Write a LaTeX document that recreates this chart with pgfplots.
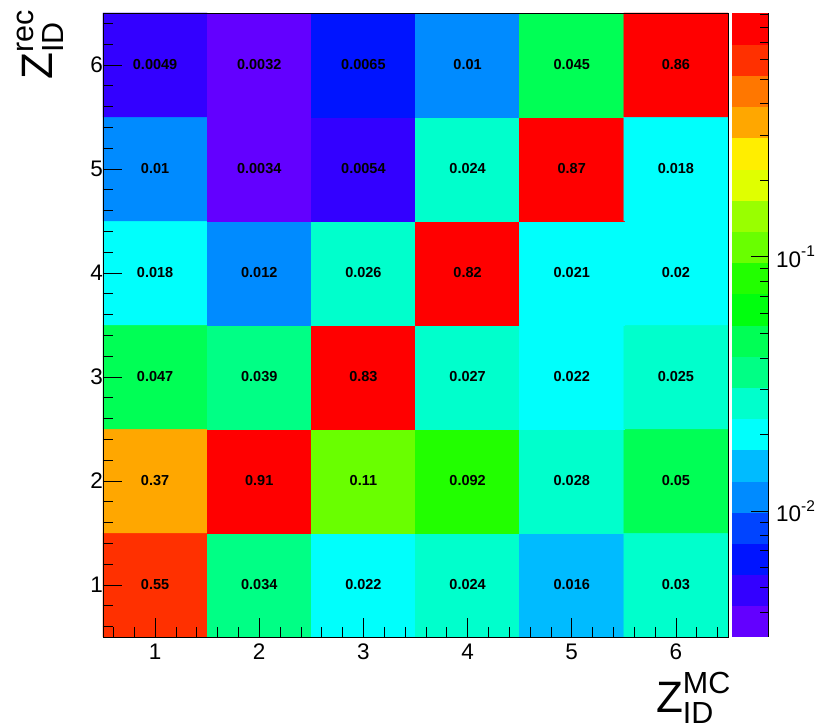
\documentclass[border=0pt]{standalone}
\usepackage{fontspec}
\setmainfont{Liberation Sans}
\usepackage{pgfplots}
\usepackage{pgfplotstable}
\pgfplotsset{compat=1.18}

% migration matrix: true ID (x) vs reconstructed ID (y), fraction per cell
\pgfplotstableread{
x y v
1 1 0.55
2 1 0.034
3 1 0.022
4 1 0.024
5 1 0.016
6 1 0.03
1 2 0.37
2 2 0.91
3 2 0.11
4 2 0.092
5 2 0.028
6 2 0.05
1 3 0.047
2 3 0.039
3 3 0.83
4 3 0.027
5 3 0.022
6 3 0.025
1 4 0.018
2 4 0.012
3 4 0.026
4 4 0.82
5 4 0.021
6 4 0.02
1 5 0.01
2 5 0.0034
3 5 0.0054
4 5 0.024
5 5 0.87
6 5 0.018
1 6 0.0049
2 6 0.0032
3 6 0.0065
4 6 0.01
5 6 0.045
6 6 0.86
}\cells

\newcommand{\ticksize}{\fontsize{22.5}{26}\selectfont}
\newcommand{\titlesize}{\fontsize{44}{48}\selectfont}
\newcommand{\scriptlab}{\fontsize{30.5}{32}\selectfont}
% Z with a superscript and a subscript, set in the text font
\newcommand{\zlabel}[2]{Z\rlap{\raisebox{19pt}{\scriptlab #1}}\raisebox{-11pt}{\scriptlab #2}}

\begin{document}
\begin{tikzpicture}
\useasboundingbox (0,0) rectangle (822pt,727pt);
\begin{axis}[
  name=main,
  at={(103pt,90pt)}, anchor=south west,
  width=625pt, height=624pt, scale only axis,
  xmin=0.5, xmax=6.5, ymin=0.5, ymax=6.5,
  xtick={1,2,3,4,5,6}, ytick={1,2,3,4,5,6},
  minor xtick={0.6,0.8,1.2,1.4,1.6,1.8,2.2,2.4,2.6,2.8,3.2,3.4,3.6,3.8,4.2,4.4,4.6,4.8,5.2,5.4,5.6,5.8,6.2,6.4},
  minor ytick={0.6,0.8,1.2,1.4,1.6,1.8,2.2,2.4,2.6,2.8,3.2,3.4,3.6,3.8,4.2,4.4,4.6,4.8,5.2,5.4,5.6,5.8,6.2,6.4},
  xtick pos=bottom, ytick pos=left,
  tick align=inside,
  major tick length=19pt, minor tick length=9.5pt,
  tick style={black, line width=0.8pt},
  axis line style={line width=0.8pt},
  axis on top,
  /pgf/number format/assume math mode=true,
  ticklabel style={font=\ticksize},
  xticklabel style={yshift=-3pt},
  yticklabel style={xshift=3.5pt},
  xlabel={\zlabel{MC}{ID}},
  ylabel={\zlabel{rec}{ID}},
  label style={font=\titlesize, inner sep=0pt},
  xlabel style={at={(axis description cs:0.8846,0)}, anchor=base west, yshift=-76pt},
  ylabel style={at={(axis description cs:-0.0801,0.8926)}, anchor=base west},
  colormap={rootpal}{
    rgb255=(99,0,255) rgb255=(51,0,255) rgb255=(0,20,255) rgb255=(0,68,255)
    rgb255=(0,139,255) rgb255=(0,187,255) rgb255=(0,255,252) rgb255=(0,255,204)
    rgb255=(0,255,133) rgb255=(0,255,85) rgb255=(0,255,14) rgb255=(34,255,0)
    rgb255=(105,255,0) rgb255=(153,255,0) rgb255=(224,255,0) rgb255=(255,238,0)
    rgb255=(255,167,0) rgb255=(255,119,0) rgb255=(255,48,0) rgb255=(255,0,0)
  },
  colormap access=piecewise constant,
  point meta min=-2.49485, point meta max=-0.04096,
  colorbar,
  colorbar style={
    at={(parent axis.north east)}, anchor=north west, xshift=-5pt,
    scale only axis, width=37pt,
    xmin=0, xmax=1, enlarge x limits=false,
    axis x line=none, axis y line*=right,
    ytick={-2,-1},
    yticklabels={10\raisebox{0.48em}{\fontsize{15.5}{16}\selectfont -2},
                 10\raisebox{0.48em}{\fontsize{15.5}{16}\selectfont -1}},
    minor ytick={-2.39794,-2.30103,-2.22185,-2.15490,-2.09691,-2.04576,
                 -1.69897,-1.52288,-1.39794,-1.30103,-1.22185,-1.15490,-1.09691,-1.04576,
                 -0.69897,-0.52288,-0.39794,-0.30103,-0.22185,-0.15490,-0.09691,-0.04576},
    tick align=inside,
    major tick length=18pt, minor tick length=9pt,
    tick style={black, line width=0.8pt},
    axis line style={line width=0.8pt},
    yticklabel style={font=\ticksize, xshift=4pt},
  },
]
\addplot[matrix plot*, mesh/cols=6, point meta={ln(\thisrow{v})/ln(10)}]
  table[x=x, y=y] {\cells};
\addplot[only marks, mark=none, point meta=explicit symbolic,
  nodes near coords, nodes near coords align=center,
  nodes near coords style={font=\bfseries\fontsize{14.5}{16}\selectfont, text=black}]
  table[x=x, y=y, meta=v] {\cells};
\end{axis}
\end{tikzpicture}
\end{document}
